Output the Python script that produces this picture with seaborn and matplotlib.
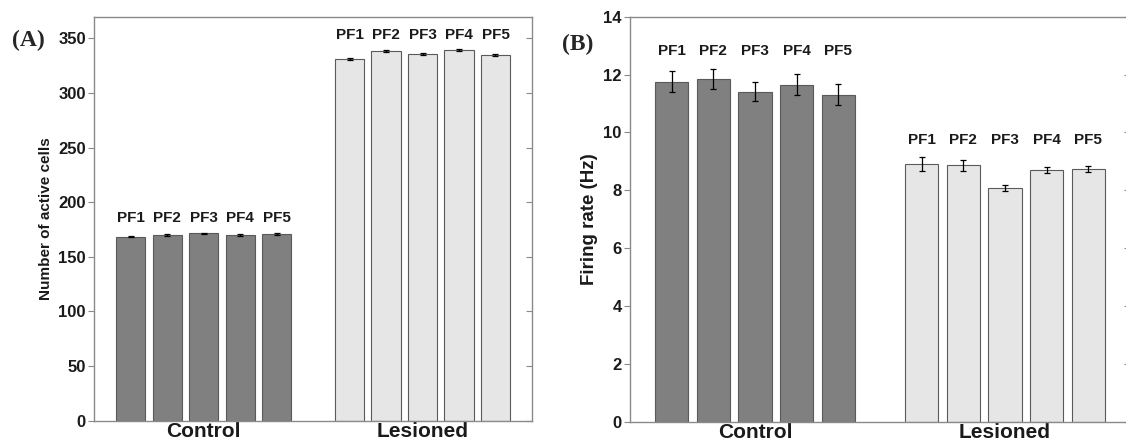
import numpy as np
import pandas as pd
import matplotlib
matplotlib.use("Agg")
import matplotlib.pyplot as plt
import seaborn as sns

# ---------------- data ----------------
groups = ["Control", "Lesioned"]
pf_labels = ["PF1", "PF2", "PF3", "PF4", "PF5"]

a_control = [168.5, 170.0, 171.5, 170.0, 171.3]
a_control_err = [0.6, 1.0, 0.8, 1.0, 0.9]
a_lesioned = [331.0, 338.5, 336.0, 339.2, 335.2]
a_lesioned_err = [1.0, 0.9, 0.8, 0.9, 0.8]

b_control = [11.76, 11.86, 11.41, 11.65, 11.31]
b_control_err = [0.37, 0.35, 0.32, 0.36, 0.35]
b_lesioned = [8.90, 8.86, 8.07, 8.70, 8.75]
b_lesioned_err = [0.24, 0.18, 0.10, 0.11, 0.10]

a_yticks = [0, 50, 100, 150, 200, 250, 300, 350]
b_yticks = [0, 2, 4, 6, 8, 10, 12, 14]

# ---------------- style ----------------
sns.set_style("white")
plt.rcParams["font.family"] = ["Liberation Sans", "DejaVu Sans"]

colors = {"Control": "#808080", "Lesioned": "#e6e6e6"}
spine_col = "#8a8a8a"

fig = plt.figure(figsize=(11.26, 4.44), dpi=100)
axA = fig.add_axes([0.0837, 0.0525, 0.3887, 0.910])
axB = fig.add_axes([0.5595, 0.0502, 0.4440, 0.912])


def make_df(ctrl, ctrl_err, les, les_err):
    rows = []
    for gi, (g, vals, errs) in enumerate([("Control", ctrl, ctrl_err),
                                           ("Lesioned", les, les_err)]):
        for pi, (lab, v, e) in enumerate(zip(pf_labels, vals, errs)):
            rows.append({"group": g, "pf": lab, "pos": gi * 6 + pi,
                         "value": v, "err": e})
    return pd.DataFrame(rows)


def draw(ax, df, ylim, yticks, ylabel, label_off, ylab_size, panel, panel_xy):
    sns.barplot(data=df, x="pos", y="value", hue="group", palette=colors,
                native_scale=True, dodge=False, width=0.8, legend=False,
                edgecolor="#5a5a5a", linewidth=0.8, errorbar=None, ax=ax)
    ax.errorbar(df["pos"], df["value"], yerr=df["err"], fmt="none",
                ecolor="black", elinewidth=0.9, capsize=2.2, capthick=0.9)
    for g in groups:
        sub = df[df["group"] == g]
        ytxt = (sub["value"] + sub["err"]).max() + label_off
        for _, r in sub.iterrows():
            ax.text(r["pos"], ytxt, r["pf"], ha="center", va="center",
                    fontsize=11, fontweight="bold", color="#1a1a1a")
    ax.set_xlim(-1, 11)
    ax.set_ylim(*ylim)
    ax.set_yticks(yticks)
    ax.set_yticklabels([str(t) for t in yticks], fontsize=12,
                       fontweight="bold", color="#1a1a1a")
    centers = [df[df["group"] == g]["pos"].mean() for g in groups]
    ax.set_xticks(centers)
    ax.set_xticklabels(groups, fontsize=15, fontweight="bold",
                       color="#1a1a1a")
    ax.tick_params(axis="x", length=0, pad=1)
    ax.tick_params(axis="y", direction="out", length=4, width=0.8,
                   color=spine_col, pad=2, left=True)
    sec = ax.secondary_yaxis("right")
    sec.set_yticks(yticks)
    sec.tick_params(direction="in", length=4, width=0.8, color=spine_col,
                    labelright=False)
    sec.spines["right"].set_visible(False)
    for s in ax.spines.values():
        s.set_visible(True)
        s.set_color(spine_col)
        s.set_linewidth(1.0)
    ax.set_xlabel("")
    ax.set_ylabel(ylabel, fontsize=ylab_size, fontweight="bold",
                  color="#1a1a1a", labelpad=4)
    fig.text(panel_xy[0], panel_xy[1], panel, family="Liberation Serif",
             fontsize=17, fontweight="bold", ha="center", va="center")


dfA = make_df(a_control, a_control_err, a_lesioned, a_lesioned_err)
dfB = make_df(b_control, b_control_err, b_lesioned, b_lesioned_err)

draw(axA, dfA, (0, 370), a_yticks, "Number of active cells", 13.5, 11,
     "(A)", (28 / 1126, 1 - 40 / 444))
draw(axB, dfB, (0, 14), b_yticks, "Firing rate (Hz)", 0.6, 13.5,
     "(B)", (578 / 1126, 1 - 44 / 444))

fig.savefig("out.png", dpi=100)
